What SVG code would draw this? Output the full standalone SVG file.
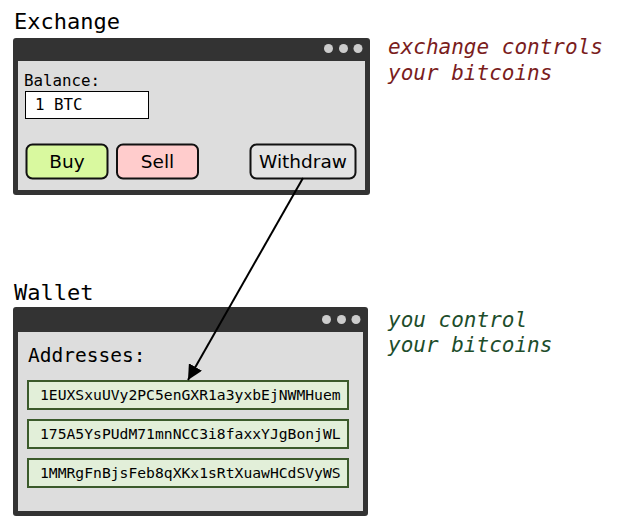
<svg xmlns="http://www.w3.org/2000/svg" width="624" height="529" viewBox="0 0 624 529">
<style>
.frame{fill:#333333}
.inner{fill:#dddddd}
.dot{fill:#cccccc}
.title{font-family:"DejaVu Sans Mono",monospace;font-size:22px;fill:#000}
.mono{font-family:"DejaVu Sans Mono",monospace;fill:#000}
.btn{stroke:#111;stroke-width:2}
.btxt{font-family:"DejaVu Sans",sans-serif;font-size:18.5px;fill:#000;text-anchor:middle}
.addr{fill:#e2efd9;stroke:#3b5a2b;stroke-width:2}
.atxt{font-family:"DejaVu Sans Mono",monospace;font-size:14.7px;fill:#000}
.note{font-family:"DejaVu Sans Mono",monospace;font-style:italic;font-size:21px}
</style>
<defs>
<marker id="ah" viewBox="0 0 10 10" refX="10" refY="5" markerWidth="15" markerHeight="15" markerUnits="userSpaceOnUse" orient="auto">
<path d="M0,0 L10,5 L0,10 z" fill="#000"/>
</marker>
</defs>
<g id="exchange">
<text class="title" x="14" y="29">Exchange</text>
<rect class="frame" x="13" y="38" width="357" height="157" rx="3"/>
<rect class="inner" x="18" y="61" width="347" height="129"/>
<circle class="dot" cx="328.5" cy="48.5" r="4.5"/>
<circle class="dot" cx="343.5" cy="48.5" r="4.5"/>
<circle class="dot" cx="358" cy="48.5" r="4.5"/>
<text class="mono" x="24" y="86" font-size="15.8">Balance:</text>
<rect x="25.5" y="91.5" width="123" height="27" fill="#fff" stroke="#000" stroke-width="1"/>
<text class="mono" x="35" y="110" font-size="15.8">1 BTC</text>
<g id="buy"><rect class="btn" x="26.5" y="144.5" width="81" height="34" rx="6" fill="#d9f99f"/><text class="btxt" x="67" y="167.5">Buy</text></g>
<g id="sell"><rect class="btn" x="117" y="144.5" width="81" height="34" rx="6" fill="#ffcccc"/><text class="btxt" x="157.5" y="167.5">Sell</text></g>
<g id="withdraw"><rect class="btn" x="250.5" y="144.5" width="105" height="34" rx="6" fill="#e3e3e3"/><text class="btxt" x="303" y="167.5">Withdraw</text></g>
</g>
<g id="wallet">
<text class="title" x="14" y="300">Wallet</text>
<rect class="frame" x="13" y="307" width="355" height="209" rx="3"/>
<rect class="inner" x="18" y="332" width="345" height="179"/>
<circle class="dot" cx="326.5" cy="319.5" r="4.5"/>
<circle class="dot" cx="341.5" cy="319.5" r="4.5"/>
<circle class="dot" cx="356" cy="319.5" r="4.5"/>
<text class="mono" x="28" y="362" font-size="19.5">Addresses:</text>
<g id="addr1"><rect class="addr" x="28" y="381" width="320" height="28"/><text class="atxt" x="40" y="400">1EUXSxuUVy2PC5enGXR1a3yxbEjNWMHuem</text></g>
<g id="addr2"><rect class="addr" x="28" y="420" width="320" height="28"/><text class="atxt" x="40" y="439">175A5YsPUdM71mnNCC3i8faxxYJgBonjWL</text></g>
<g id="addr3"><rect class="addr" x="28" y="459" width="320" height="28"/><text class="atxt" x="40" y="478">1MMRgFnBjsFeb8qXKx1sRtXuawHCdSVyWS</text></g>
</g>
<g id="notes">
<text class="note" x="388" y="54" fill="#7a1d1d">exchange controls</text>
<text class="note" x="388" y="80" fill="#7a1d1d">your bitcoins</text>
<text class="note" x="388" y="327" fill="#1d4d2b">you control</text>
<text class="note" x="388" y="352" fill="#1d4d2b">your bitcoins</text>
</g>
<g id="connectors">
<line x1="303" y1="178" x2="188" y2="380" stroke="#000" stroke-width="2" marker-end="url(#ah)"/>
</g>
</svg>
